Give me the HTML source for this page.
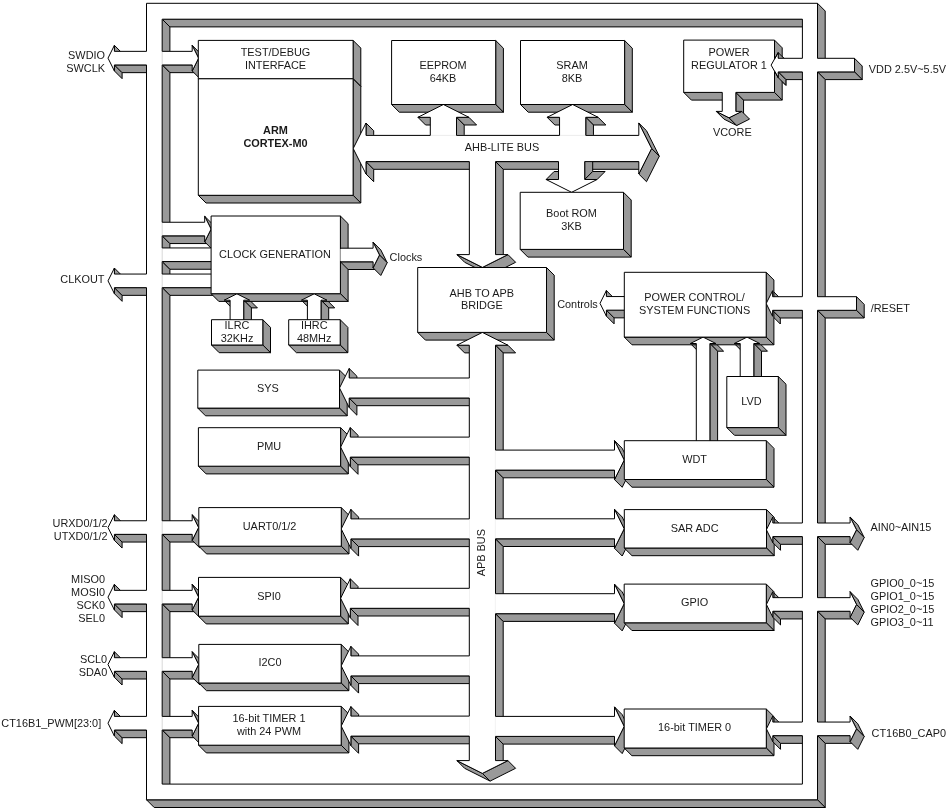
<!DOCTYPE html>
<html><head><meta charset="utf-8"><title>Block diagram</title>
<style>html,body{margin:0;padding:0;background:#fff;width:947px;height:812px;overflow:hidden}svg{display:block;will-change:transform}</style>
</head><body><svg width="947" height="812" viewBox="0 0 947 812"><g fill="#999999" stroke="#000" stroke-width="1.0" stroke-linejoin="round">
<path d="M114.4 45.35 L114.4 51.35 L122.1 59.05 L122.1 53.05 Z"/>
<path d="M114.4 64.95 L114.4 70.95 L122.1 78.65 L122.1 72.65 Z"/>
<path d="M146.5 64.95 L114.4 64.95 L122.1 72.65 L154.2 72.65 Z"/>
<path d="M162.2 19.2 L162.2 51.35 L169.9 59.05 L169.9 26.9 Z"/>
<path d="M192.2 45.35 L198.6 58.15 L206.3 65.85 L199.9 53.05 Z"/>
<path d="M192.2 64.95 L162.2 64.95 L169.9 72.65 L199.9 72.65 Z"/>
<path d="M198.6 58.15 L192.2 70.95 L199.9 78.65 L206.3 65.85 Z"/>
<path d="M162.2 64.95 L162.2 222.25 L169.9 229.95 L169.9 72.65 Z"/>
<path d="M114.4 268.05 L114.4 274.05 L122.1 281.75 L122.1 275.75 Z"/>
<path d="M114.4 287.65 L114.4 293.65 L122.1 301.35 L122.1 295.35 Z"/>
<path d="M162.2 235.85 L162.2 247.95 L169.9 255.65 L169.9 243.55 Z"/>
<path d="M353.1 40.4 L353.1 78.8 L360.8 86.5 L360.8 48.1 Z"/>
<path d="M353.1 78.8 L198.3 78.8 L206 86.5 L360.8 86.5 Z"/>
<path d="M146.5 287.65 L114.4 287.65 L122.1 295.35 L154.2 295.35 Z"/>
<path d="M162.2 261.55 L162.2 274.05 L169.9 281.75 L169.9 269.25 Z"/>
<path d="M204.7 216.25 L211.1 229.05 L218.8 236.75 L212.4 223.95 Z"/>
<path d="M204.7 235.85 L162.2 235.85 L169.9 243.55 L212.4 243.55 Z"/>
<path d="M211.1 229.05 L204.7 241.85 L212.4 249.55 L218.8 236.75 Z"/>
<path d="M213 247.95 L213 261.55 L220.7 269.25 L220.7 255.65 Z"/>
<path d="M213 261.55 L162.2 261.55 L169.9 269.25 L220.7 269.25 Z"/>
<path d="M213 274.05 L213 287.65 L220.7 295.35 L220.7 281.75 Z"/>
<path d="M213 287.65 L162.2 287.65 L169.9 295.35 L220.7 295.35 Z"/>
<path d="M366 123 L366 135.4 L373.7 143.1 L373.7 130.7 Z"/>
<path d="M230.1 300.2 L224.1 300.2 L231.8 307.9 L237.8 307.9 Z"/>
<path d="M366 161.6 L366 174 L373.7 181.7 L373.7 169.3 Z"/>
<path d="M430.3 117.3 L417.9 117.3 L425.6 125 L438 125 Z"/>
<path d="M353.1 78.8 L353.1 195.3 L360.8 203 L360.8 86.5 Z"/>
<path d="M353.1 195.3 L198.3 195.3 L206 203 L360.8 203 Z"/>
<path d="M249.7 300.2 L243.7 300.2 L251.4 307.9 L257.4 307.9 Z"/>
<path d="M243.7 300.2 L243.7 321 L251.4 328.7 L251.4 307.9 Z"/>
<path d="M243.7 321 L230.1 321 L237.8 328.7 L251.4 328.7 Z"/>
<path d="M468.9 117.3 L456.5 117.3 L464.2 125 L476.6 125 Z"/>
<path d="M456.5 117.3 L456.5 135.4 L464.2 143.1 L464.2 125 Z"/>
<path d="M495.7 40.5 L495.7 104.5 L503.4 112.2 L503.4 48.2 Z"/>
<path d="M495.7 104.5 L391.6 104.5 L399.3 112.2 L503.4 112.2 Z"/>
<path d="M307.4 300.2 L301.4 300.2 L309.1 307.9 L315.1 307.9 Z"/>
<path d="M262.8 319.7 L262.8 345 L270.5 352.7 L270.5 327.4 Z"/>
<path d="M262.8 345 L211.5 345 L219.2 352.7 L270.5 352.7 Z"/>
<path d="M327 300.2 L321 300.2 L328.7 307.9 L334.7 307.9 Z"/>
<path d="M469.35 161.6 L366 161.6 L373.7 169.3 L477.05 169.3 Z"/>
<path d="M340.4 216 L340.4 293.7 L348.1 301.4 L348.1 223.7 Z"/>
<path d="M340.4 293.7 L211.1 293.7 L218.8 301.4 L348.1 301.4 Z"/>
<path d="M373.1 242.2 L379.5 255 L387.2 262.7 L380.8 249.9 Z"/>
<path d="M373.1 261.8 L340.4 261.8 L348.1 269.5 L380.8 269.5 Z"/>
<path d="M114.4 514.75 L114.4 520.75 L122.1 528.45 L122.1 522.45 Z"/>
<path d="M379.5 255 L373.1 267.8 L380.8 275.5 L387.2 262.7 Z"/>
<path d="M321 300.2 L321 321 L328.7 328.7 L328.7 307.9 Z"/>
<path d="M321 321 L307.4 321 L315.1 328.7 L328.7 328.7 Z"/>
<path d="M114.4 534.35 L114.4 540.35 L122.1 548.05 L122.1 542.05 Z"/>
<path d="M559.55 117.3 L547.15 117.3 L554.85 125 L567.25 125 Z"/>
<path d="M146.5 534.35 L114.4 534.35 L122.1 542.05 L154.2 542.05 Z"/>
<path d="M162.2 287.65 L162.2 520.75 L169.9 528.45 L169.9 295.35 Z"/>
<path d="M340.2 319.7 L340.2 345 L347.9 352.7 L347.9 327.4 Z"/>
<path d="M340.2 345 L288.7 345 L296.4 352.7 L347.9 352.7 Z"/>
<path d="M114.4 584.35 L114.4 590.35 L122.1 598.05 L122.1 592.05 Z"/>
<path d="M598.15 117.3 L585.75 117.3 L593.45 125 L605.85 125 Z"/>
<path d="M585.75 117.3 L585.75 135.4 L593.45 143.1 L593.45 125 Z"/>
<path d="M114.4 603.95 L114.4 609.95 L122.1 617.65 L122.1 611.65 Z"/>
<path d="M192.2 514.75 L198.6 527.55 L206.3 535.25 L199.9 522.45 Z"/>
<path d="M192.2 534.35 L162.2 534.35 L169.9 542.05 L199.9 542.05 Z"/>
<path d="M349.2 368.5 L349.2 378 L356.9 385.7 L356.9 376.2 Z"/>
<path d="M624.6 40.5 L624.6 104.5 L632.3 112.2 L632.3 48.2 Z"/>
<path d="M624.6 104.5 L520.5 104.5 L528.2 112.2 L632.3 112.2 Z"/>
<path d="M198.6 527.55 L192.2 540.35 L199.9 548.05 L206.3 535.25 Z"/>
<path d="M339.5 370.1 L339.5 408.1 L347.2 415.8 L347.2 377.8 Z"/>
<path d="M339.5 408.1 L197.8 408.1 L205.5 415.8 L347.2 415.8 Z"/>
<path d="M482.45 267.4 L456.95 254.6 L464.65 262.3 L490.15 275.1 Z"/>
<path d="M495.55 161.6 L495.55 254.6 L503.25 262.3 L503.25 169.3 Z"/>
<path d="M146.5 603.95 L114.4 603.95 L122.1 611.65 L154.2 611.65 Z"/>
<path d="M162.2 534.35 L162.2 590.35 L169.9 598.05 L169.9 542.05 Z"/>
<path d="M349.2 398 L349.2 407.5 L356.9 415.2 L356.9 405.7 Z"/>
<path d="M507.95 254.6 L482.45 267.4 L490.15 275.1 L515.65 262.3 Z"/>
<path d="M114.4 651.7 L114.4 657.7 L122.1 665.4 L122.1 659.4 Z"/>
<path d="M350.3 427.6 L350.3 437.1 L358 444.8 L358 435.3 Z"/>
<path d="M114.4 671.3 L114.4 677.3 L122.1 685 L122.1 679 Z"/>
<path d="M192.2 584.35 L198.6 597.15 L206.3 604.85 L199.9 592.05 Z"/>
<path d="M192.2 603.95 L162.2 603.95 L169.9 611.65 L199.9 611.65 Z"/>
<path d="M638.8 123 L651.6 148.5 L659.3 156.2 L646.5 130.7 Z"/>
<path d="M638.8 161.6 L495.55 161.6 L503.25 169.3 L646.5 169.3 Z"/>
<path d="M198.6 597.15 L192.2 609.95 L199.9 617.65 L206.3 604.85 Z"/>
<path d="M340.6 427.7 L340.6 466.2 L348.3 473.9 L348.3 435.4 Z"/>
<path d="M340.6 466.2 L198.4 466.2 L206.1 473.9 L348.3 473.9 Z"/>
<path d="M651.6 148.5 L638.8 174 L646.5 181.7 L659.3 156.2 Z"/>
<path d="M469.3 345.2 L456.9 345.2 L464.6 352.9 L477 352.9 Z"/>
<path d="M722.25 92.4 L683.7 92.4 L691.4 100.1 L729.95 100.1 Z"/>
<path d="M350.3 457.1 L350.3 466.6 L358 474.3 L358 464.8 Z"/>
<path d="M146.5 671.3 L114.4 671.3 L122.1 679 L154.2 679 Z"/>
<path d="M162.2 603.95 L162.2 657.7 L169.9 665.4 L169.9 611.65 Z"/>
<path d="M802.4 19.2 L162.2 19.2 L169.9 26.9 L810.1 26.9 Z"/>
<path d="M114.4 710.4 L114.4 716.4 L122.1 724.1 L122.1 718.1 Z"/>
<path d="M778.2 52.6 L778.2 58.3 L785.9 66 L785.9 60.3 Z"/>
<path d="M729.05 117.8 L716.25 111.4 L723.95 119.1 L736.75 125.5 Z"/>
<path d="M735.85 92.4 L735.85 111.4 L743.55 119.1 L743.55 100.1 Z"/>
<path d="M114.4 730 L114.4 736 L122.1 743.7 L122.1 737.7 Z"/>
<path d="M507.9 345.2 L495.5 345.2 L503.2 352.9 L515.6 352.9 Z"/>
<path d="M741.85 111.4 L729.05 117.8 L736.75 125.5 L749.55 119.1 Z"/>
<path d="M778.2 71.9 L778.2 77.6 L785.9 85.3 L785.9 79.6 Z"/>
<path d="M192.2 651.7 L198.6 664.5 L206.3 672.2 L199.9 659.4 Z"/>
<path d="M192.2 671.3 L162.2 671.3 L169.9 679 L199.9 679 Z"/>
<path d="M774.5 92.4 L735.85 92.4 L743.55 100.1 L782.2 100.1 Z"/>
<path d="M774.5 40.1 L774.5 92.4 L782.2 100.1 L782.2 47.8 Z"/>
<path d="M469.3 398 L349.2 398 L356.9 405.7 L477 405.7 Z"/>
<path d="M198.6 664.5 L192.2 677.3 L199.9 685 L206.3 672.2 Z"/>
<path d="M350.9 509.4 L350.9 518.9 L358.6 526.6 L358.6 517.1 Z"/>
<path d="M623.5 192.3 L623.5 249.4 L631.2 257.1 L631.2 200 Z"/>
<path d="M623.5 249.4 L520.2 249.4 L527.9 257.1 L631.2 257.1 Z"/>
<path d="M802.4 71.9 L778.2 71.9 L785.9 79.6 L810.1 79.6 Z"/>
<path d="M817.5 3.3 L817.5 58.3 L825.2 66 L825.2 11 Z"/>
<path d="M146.5 730 L114.4 730 L122.1 737.7 L154.2 737.7 Z"/>
<path d="M162.2 671.3 L162.2 716.4 L169.9 724.1 L169.9 679 Z"/>
<path d="M546.5 267.5 L546.5 332.4 L554.2 340.1 L554.2 275.2 Z"/>
<path d="M546.5 332.4 L417.7 332.4 L425.4 340.1 L554.2 340.1 Z"/>
<path d="M341.3 507.6 L341.3 546.2 L349 553.9 L349 515.3 Z"/>
<path d="M341.3 546.2 L198.8 546.2 L206.5 553.9 L349 553.9 Z"/>
<path d="M350.9 538.9 L350.9 548.4 L358.6 556.1 L358.6 546.6 Z"/>
<path d="M606.4 290.55 L606.4 296.55 L614.1 304.25 L614.1 298.25 Z"/>
<path d="M192.2 710.4 L198.6 723.2 L206.3 730.9 L199.9 718.1 Z"/>
<path d="M192.2 730 L162.2 730 L169.9 737.7 L199.9 737.7 Z"/>
<path d="M606.4 310.15 L606.4 316.15 L614.1 323.85 L614.1 317.85 Z"/>
<path d="M469.3 457.1 L350.3 457.1 L358 464.8 L477 464.8 Z"/>
<path d="M854.5 58.3 L854.5 71.9 L862.2 79.6 L862.2 66 Z"/>
<path d="M854.5 71.9 L817.5 71.9 L825.2 79.6 L862.2 79.6 Z"/>
<path d="M198.6 723.2 L192.2 736 L199.9 743.7 L206.3 730.9 Z"/>
<path d="M626 296.55 L626 310.15 L633.7 317.85 L633.7 304.25 Z"/>
<path d="M626 310.15 L606.4 310.15 L614.1 317.85 L633.7 317.85 Z"/>
<path d="M350.3 578.8 L350.3 588.3 L358 596 L358 586.5 Z"/>
<path d="M495.5 345.2 L495.5 450.1 L503.2 457.8 L503.2 352.9 Z"/>
<path d="M162.2 730 L162.2 784.1 L169.9 791.8 L169.9 737.7 Z"/>
<path d="M340.6 577.4 L340.6 616.2 L348.3 623.9 L348.3 585.1 Z"/>
<path d="M340.6 616.2 L198.5 616.2 L206.2 623.9 L348.3 623.9 Z"/>
<path d="M350.3 608.3 L350.3 617.8 L358 625.5 L358 616 Z"/>
<path d="M350.9 646.4 L350.9 655.9 L358.6 663.6 L358.6 654.1 Z"/>
<path d="M469.3 538.9 L350.9 538.9 L358.6 546.6 L477 546.6 Z"/>
<path d="M495.5 470.1 L495.5 518.8 L503.2 526.5 L503.2 477.8 Z"/>
<path d="M341.2 644.4 L341.2 683 L348.9 690.7 L348.9 652.1 Z"/>
<path d="M341.2 683 L198.8 683 L206.5 690.7 L348.9 690.7 Z"/>
<path d="M350.9 675.9 L350.9 685.4 L358.6 693.1 L358.6 683.6 Z"/>
<path d="M696.3 343.5 L690.3 343.5 L698 351.2 L704 351.2 Z"/>
<path d="M715.9 343.5 L709.9 343.5 L717.6 351.2 L723.6 351.2 Z"/>
<path d="M350.9 706.6 L350.9 716.1 L358.6 723.8 L358.6 714.3 Z"/>
<path d="M772.6 290.7 L772.6 296.7 L780.3 304.4 L780.3 298.4 Z"/>
<path d="M469.3 608.3 L350.3 608.3 L358 616 L477 616 Z"/>
<path d="M740.2 343.5 L734.2 343.5 L741.9 351.2 L747.9 351.2 Z"/>
<path d="M614.5 440.6 L624.2 460.1 L631.9 467.8 L622.2 448.3 Z"/>
<path d="M614.5 470.1 L495.5 470.1 L503.2 477.8 L622.2 477.8 Z"/>
<path d="M341.2 706.4 L341.2 745.2 L348.9 752.9 L348.9 714.1 Z"/>
<path d="M341.2 745.2 L198.6 745.2 L206.3 752.9 L348.9 752.9 Z"/>
<path d="M772.6 310.3 L772.6 316.3 L780.3 324 L780.3 318 Z"/>
<path d="M495.5 538.8 L495.5 593.7 L503.2 601.4 L503.2 546.5 Z"/>
<path d="M624.2 460.1 L614.5 479.6 L622.2 487.3 L631.9 467.8 Z"/>
<path d="M350.9 736.1 L350.9 745.6 L358.6 753.3 L358.6 743.8 Z"/>
<path d="M759.8 343.5 L753.8 343.5 L761.5 351.2 L767.5 351.2 Z"/>
<path d="M766.2 272.3 L766.2 337.1 L773.9 344.8 L773.9 280 Z"/>
<path d="M766.2 337.1 L624.3 337.1 L632 344.8 L773.9 344.8 Z"/>
<path d="M802.4 310.3 L772.6 310.3 L780.3 318 L810.1 318 Z"/>
<path d="M817.5 71.9 L817.5 296.7 L825.2 304.4 L825.2 79.6 Z"/>
<path d="M753.8 343.5 L753.8 378 L761.5 385.7 L761.5 351.2 Z"/>
<path d="M753.8 378 L740.2 378 L747.9 385.7 L761.5 385.7 Z"/>
<path d="M469.3 675.9 L350.9 675.9 L358.6 683.6 L477 683.6 Z"/>
<path d="M709.9 343.5 L709.9 442 L717.6 449.7 L717.6 351.2 Z"/>
<path d="M709.9 442 L696.3 442 L704 449.7 L717.6 449.7 Z"/>
<path d="M614.5 509.3 L624.2 528.8 L631.9 536.5 L622.2 517 Z"/>
<path d="M614.5 538.8 L495.5 538.8 L503.2 546.5 L622.2 546.5 Z"/>
<path d="M624.2 528.8 L614.5 548.3 L622.2 556 L631.9 536.5 Z"/>
<path d="M856.5 296.7 L856.5 310.3 L864.2 318 L864.2 304.4 Z"/>
<path d="M856.5 310.3 L817.5 310.3 L825.2 318 L864.2 318 Z"/>
<path d="M469.3 736.1 L350.9 736.1 L358.6 743.8 L477 743.8 Z"/>
<path d="M778.3 376.5 L778.3 427.6 L786 435.3 L786 384.2 Z"/>
<path d="M778.3 427.6 L726.8 427.6 L734.5 435.3 L786 435.3 Z"/>
<path d="M495.5 613.7 L495.5 716.4 L503.2 724.1 L503.2 621.4 Z"/>
<path d="M614.5 584.2 L624.2 603.7 L631.9 611.4 L622.2 591.9 Z"/>
<path d="M614.5 613.7 L495.5 613.7 L503.2 621.4 L622.2 621.4 Z"/>
<path d="M624.2 603.7 L614.5 623.2 L622.2 630.9 L631.9 611.4 Z"/>
<path d="M766.3 440.7 L766.3 479.5 L774 487.2 L774 448.4 Z"/>
<path d="M766.3 479.5 L624.3 479.5 L632 487.2 L774 487.2 Z"/>
<path d="M482.4 773.4 L456.9 760.6 L464.6 768.3 L490.1 781.1 Z"/>
<path d="M495.5 736.4 L495.5 760.6 L503.2 768.3 L503.2 744.1 Z"/>
<path d="M507.9 760.6 L482.4 773.4 L490.1 781.1 L515.6 768.3 Z"/>
<path d="M772.8 517 L772.8 523 L780.5 530.7 L780.5 524.7 Z"/>
<path d="M766.5 509.6 L766.5 548 L774.2 555.7 L774.2 517.3 Z"/>
<path d="M766.5 548 L624.3 548 L632 555.7 L774.2 555.7 Z"/>
<path d="M772.8 536.6 L772.8 542.6 L780.5 550.3 L780.5 544.3 Z"/>
<path d="M802.4 536.6 L772.8 536.6 L780.5 544.3 L810.1 544.3 Z"/>
<path d="M817.5 310.3 L817.5 523 L825.2 530.7 L825.2 318 Z"/>
<path d="M614.5 706.9 L624.2 726.4 L631.9 734.1 L622.2 714.6 Z"/>
<path d="M614.5 736.4 L495.5 736.4 L503.2 744.1 L622.2 744.1 Z"/>
<path d="M624.2 726.4 L614.5 745.9 L622.2 753.6 L631.9 734.1 Z"/>
<path d="M772.8 591.65 L772.8 597.65 L780.5 605.35 L780.5 599.35 Z"/>
<path d="M850.1 517 L856.5 529.8 L864.2 537.5 L857.8 524.7 Z"/>
<path d="M850.1 536.6 L817.5 536.6 L825.2 544.3 L857.8 544.3 Z"/>
<path d="M766.3 584.1 L766.3 622.8 L774 630.5 L774 591.8 Z"/>
<path d="M766.3 622.8 L624.2 622.8 L631.9 630.5 L774 630.5 Z"/>
<path d="M772.8 611.25 L772.8 617.25 L780.5 624.95 L780.5 618.95 Z"/>
<path d="M856.5 529.8 L850.1 542.6 L857.8 550.3 L864.2 537.5 Z"/>
<path d="M802.4 611.25 L772.8 611.25 L780.5 618.95 L810.1 618.95 Z"/>
<path d="M817.5 536.6 L817.5 597.65 L825.2 605.35 L825.2 544.3 Z"/>
<path d="M850.1 591.65 L856.5 604.45 L864.2 612.15 L857.8 599.35 Z"/>
<path d="M850.1 611.25 L817.5 611.25 L825.2 618.95 L857.8 618.95 Z"/>
<path d="M856.5 604.45 L850.1 617.25 L857.8 624.95 L864.2 612.15 Z"/>
<path d="M772.8 716.05 L772.8 722.05 L780.5 729.75 L780.5 723.75 Z"/>
<path d="M766.3 709 L766.3 748 L774 755.7 L774 716.7 Z"/>
<path d="M766.3 748 L624.2 748 L631.9 755.7 L774 755.7 Z"/>
<path d="M772.8 735.65 L772.8 741.65 L780.5 749.35 L780.5 743.35 Z"/>
<path d="M802.4 735.65 L772.8 735.65 L780.5 743.35 L810.1 743.35 Z"/>
<path d="M817.5 611.25 L817.5 722.05 L825.2 729.75 L825.2 618.95 Z"/>
<path d="M850.1 716.05 L856.5 728.85 L864.2 736.55 L857.8 723.75 Z"/>
<path d="M850.1 735.65 L817.5 735.65 L825.2 743.35 L857.8 743.35 Z"/>
<path d="M856.5 728.85 L850.1 741.65 L857.8 749.35 L864.2 736.55 Z"/>
<path d="M817.5 735.65 L817.5 799.8 L825.2 807.5 L825.2 743.35 Z"/>
<path d="M817.5 799.8 L146.5 799.8 L154.2 807.5 L825.2 807.5 Z"/>
<path d="M778.2 52.6 L778.2 58.3 L785.9 66 L785.9 60.3 Z"/>
<path d="M778.2 71.9 L778.2 77.6 L785.9 85.3 L785.9 79.6 Z"/>
<path d="M558.5 150 L584.7 150 L592.7 142 L566.5 142 Z"/>
<path d="M584.7 150 L584.7 179.5 L592.7 171.5 L592.7 142 Z"/>
<path d="M584.7 179.5 L597.1 179.5 L605.1 171.5 L592.7 171.5 Z"/>
<path d="M546.1 179.5 L558.5 179.5 L566.5 171.5 L554.1 171.5 Z"/>
</g>
<path fill="#fff" stroke="none" d="M571.6 192.3 L597.1 179.5 L584.7 179.5 L584.7 161.6 L638.8 161.6 L638.8 174 L651.6 148.5 L638.8 123 L638.8 135.4 L585.75 135.4 L585.75 117.3 L598.15 117.3 L572.65 104.5 L547.15 117.3 L559.55 117.3 L559.55 135.4 L456.5 135.4 L456.5 117.3 L468.9 117.3 L443.4 104.5 L417.9 117.3 L430.3 117.3 L430.3 135.4 L366 135.4 L366 123 L353.2 148.5 L366 174 L366 161.6 L469.35 161.6 L469.35 254.6 L456.95 254.6 L482.45 267.4 L507.95 254.6 L495.55 254.6 L495.55 161.6 L558.5 161.6 L558.5 179.5 L546.1 179.5 Z M373.1 261.8 L373.1 267.8 L379.5 255 L373.1 242.2 L373.1 248.2 L340.4 248.2 L340.4 261.8 Z M606.4 310.15 L626 310.15 L626 296.55 L606.4 296.55 L606.4 290.55 L600 303.35 L606.4 316.15 Z M230.1 300.2 L230.1 321 L243.7 321 L243.7 300.2 L249.7 300.2 L236.9 293.8 L224.1 300.2 Z M301.4 300.2 L307.4 300.2 L307.4 321 L321 321 L321 300.2 L327 300.2 L314.2 293.8 Z M740.2 343.5 L740.2 378 L753.8 378 L753.8 343.5 L759.8 343.5 L747 337.1 L734.2 343.5 Z M696.3 343.5 L696.3 442 L709.9 442 L709.9 343.5 L715.9 343.5 L703.1 337.1 L690.3 343.5 Z M114.4 64.95 L146.5 64.95 L146.5 274.05 L114.4 274.05 L114.4 268.05 L108 280.85 L114.4 293.65 L114.4 287.65 L146.5 287.65 L146.5 520.75 L114.4 520.75 L114.4 514.75 L108 527.55 L114.4 540.35 L114.4 534.35 L146.5 534.35 L146.5 590.35 L114.4 590.35 L114.4 584.35 L108 597.15 L114.4 609.95 L114.4 603.95 L146.5 603.95 L146.5 657.7 L114.4 657.7 L114.4 651.7 L108 664.5 L114.4 677.3 L114.4 671.3 L146.5 671.3 L146.5 716.4 L114.4 716.4 L114.4 710.4 L108 723.2 L114.4 736 L114.4 730 L146.5 730 L146.5 799.8 L817.5 799.8 L817.5 735.65 L850.1 735.65 L850.1 741.65 L856.5 728.85 L850.1 716.05 L850.1 722.05 L817.5 722.05 L817.5 611.25 L850.1 611.25 L850.1 617.25 L856.5 604.45 L850.1 591.65 L850.1 597.65 L817.5 597.65 L817.5 536.6 L850.1 536.6 L850.1 542.6 L856.5 529.8 L850.1 517 L850.1 523 L817.5 523 L817.5 310.3 L856.5 310.3 L856.5 296.7 L817.5 296.7 L817.5 71.9 L854.5 71.9 L854.5 58.3 L817.5 58.3 L817.5 3.3 L146.5 3.3 L146.5 51.35 L114.4 51.35 L114.4 45.35 L108 58.15 L114.4 70.95 Z M162.2 19.2 L802.4 19.2 L802.4 58.3 L778.2 58.3 L778.2 52.6 L771.1 65.1 L778.2 77.6 L778.2 71.9 L802.4 71.9 L802.4 296.7 L772.6 296.7 L772.6 290.7 L766.2 303.5 L772.6 316.3 L772.6 310.3 L802.4 310.3 L802.4 523 L772.8 523 L772.8 517 L766.4 529.8 L772.8 542.6 L772.8 536.6 L802.4 536.6 L802.4 597.65 L772.8 597.65 L772.8 591.65 L766.4 604.45 L772.8 617.25 L772.8 611.25 L802.4 611.25 L802.4 722.05 L772.8 722.05 L772.8 716.05 L766.4 728.85 L772.8 741.65 L772.8 735.65 L802.4 735.65 L802.4 784.1 L162.2 784.1 L162.2 730 L192.2 730 L192.2 736 L198.6 723.2 L192.2 710.4 L192.2 716.4 L162.2 716.4 L162.2 671.3 L192.2 671.3 L192.2 677.3 L198.6 664.5 L192.2 651.7 L192.2 657.7 L162.2 657.7 L162.2 603.95 L192.2 603.95 L192.2 609.95 L198.6 597.15 L192.2 584.35 L192.2 590.35 L162.2 590.35 L162.2 534.35 L192.2 534.35 L192.2 540.35 L198.6 527.55 L192.2 514.75 L192.2 520.75 L162.2 520.75 L162.2 287.65 L213 287.65 L213 274.05 L162.2 274.05 L162.2 261.55 L213 261.55 L213 247.95 L162.2 247.95 L162.2 235.85 L204.7 235.85 L204.7 241.85 L211.1 229.05 L204.7 216.25 L204.7 222.25 L162.2 222.25 L162.2 64.95 L192.2 64.95 L192.2 70.95 L198.6 58.15 L192.2 45.35 L192.2 51.35 L162.2 51.35 Z M349.2 398 L469.3 398 L469.3 437.1 L350.3 437.1 L350.3 427.6 L340.6 447.1 L350.3 466.6 L350.3 457.1 L469.3 457.1 L469.3 518.9 L350.9 518.9 L350.9 509.4 L341.2 528.9 L350.9 548.4 L350.9 538.9 L469.3 538.9 L469.3 588.3 L350.3 588.3 L350.3 578.8 L340.6 598.3 L350.3 617.8 L350.3 608.3 L469.3 608.3 L469.3 655.9 L350.9 655.9 L350.9 646.4 L341.2 665.9 L350.9 685.4 L350.9 675.9 L469.3 675.9 L469.3 716.1 L350.9 716.1 L350.9 706.6 L341.2 726.1 L350.9 745.6 L350.9 736.1 L469.3 736.1 L469.3 760.6 L456.9 760.6 L482.4 773.4 L507.9 760.6 L495.5 760.6 L495.5 736.4 L614.5 736.4 L614.5 745.9 L624.2 726.4 L614.5 706.9 L614.5 716.4 L495.5 716.4 L495.5 613.7 L614.5 613.7 L614.5 623.2 L624.2 603.7 L614.5 584.2 L614.5 593.7 L495.5 593.7 L495.5 538.8 L614.5 538.8 L614.5 548.3 L624.2 528.8 L614.5 509.3 L614.5 518.8 L495.5 518.8 L495.5 470.1 L614.5 470.1 L614.5 479.6 L624.2 460.1 L614.5 440.6 L614.5 450.1 L495.5 450.1 L495.5 345.2 L507.9 345.2 L482.4 332.4 L456.9 345.2 L469.3 345.2 L469.3 378 L349.2 378 L349.2 368.5 L339.5 388 L349.2 407.5 Z"/>
<path fill="none" stroke="#d8d8d8" stroke-width="1" d="M162.2 19.2 L162.2 784.1"/>
<path fill="none" stroke="#ececec" stroke-width="1" d="M366 135.4 L638.8 135.4 M340.4 248 L340.4 262"/>
<path fill="none" stroke="#f2f2f2" stroke-width="1" d="M469.5 345.2 L469.5 760.6 M495.3 345.2 L495.3 760.6"/>
<path fill="none" stroke="#000" stroke-width="1.0" d="M571.6 192.3 L597.1 179.5 L584.7 179.5 L584.7 161.6 L638.8 161.6 L638.8 174 L651.6 148.5 L638.8 123 L638.8 135.4 L585.75 135.4 L585.75 117.3 L598.15 117.3 L572.65 104.5 L547.15 117.3 L559.55 117.3 L559.55 135.4 L456.5 135.4 L456.5 117.3 L468.9 117.3 L443.4 104.5 L417.9 117.3 L430.3 117.3 L430.3 135.4 L366 135.4 L366 123 L353.2 148.5 L366 174 L366 161.6 L469.35 161.6 L469.35 254.6 L456.95 254.6 L482.45 267.4 L507.95 254.6 L495.55 254.6 L495.55 161.6 L558.5 161.6 L558.5 179.5 L546.1 179.5 Z M373.1 261.8 L373.1 267.8 L379.5 255 L373.1 242.2 L373.1 248.2 L340.4 248.2 L340.4 261.8 Z M606.4 310.15 L626 310.15 L626 296.55 L606.4 296.55 L606.4 290.55 L600 303.35 L606.4 316.15 Z M230.1 300.2 L230.1 321 L243.7 321 L243.7 300.2 L249.7 300.2 L236.9 293.8 L224.1 300.2 Z M301.4 300.2 L307.4 300.2 L307.4 321 L321 321 L321 300.2 L327 300.2 L314.2 293.8 Z M740.2 343.5 L740.2 378 L753.8 378 L753.8 343.5 L759.8 343.5 L747 337.1 L734.2 343.5 Z M696.3 343.5 L696.3 442 L709.9 442 L709.9 343.5 L715.9 343.5 L703.1 337.1 L690.3 343.5 Z M114.4 64.95 L146.5 64.95 L146.5 274.05 L114.4 274.05 L114.4 268.05 L108 280.85 L114.4 293.65 L114.4 287.65 L146.5 287.65 L146.5 520.75 L114.4 520.75 L114.4 514.75 L108 527.55 L114.4 540.35 L114.4 534.35 L146.5 534.35 L146.5 590.35 L114.4 590.35 L114.4 584.35 L108 597.15 L114.4 609.95 L114.4 603.95 L146.5 603.95 L146.5 657.7 L114.4 657.7 L114.4 651.7 L108 664.5 L114.4 677.3 L114.4 671.3 L146.5 671.3 L146.5 716.4 L114.4 716.4 L114.4 710.4 L108 723.2 L114.4 736 L114.4 730 L146.5 730 L146.5 799.8 L817.5 799.8 L817.5 735.65 L850.1 735.65 L850.1 741.65 L856.5 728.85 L850.1 716.05 L850.1 722.05 L817.5 722.05 L817.5 611.25 L850.1 611.25 L850.1 617.25 L856.5 604.45 L850.1 591.65 L850.1 597.65 L817.5 597.65 L817.5 536.6 L850.1 536.6 L850.1 542.6 L856.5 529.8 L850.1 517 L850.1 523 L817.5 523 L817.5 310.3 L856.5 310.3 L856.5 296.7 L817.5 296.7 L817.5 71.9 L854.5 71.9 L854.5 58.3 L817.5 58.3 L817.5 3.3 L146.5 3.3 L146.5 51.35 L114.4 51.35 L114.4 45.35 L108 58.15 L114.4 70.95 Z M162.2 19.2 L802.4 19.2 L802.4 58.3 L778.2 58.3 L778.2 52.6 L771.1 65.1 L778.2 77.6 L778.2 71.9 L802.4 71.9 L802.4 296.7 L772.6 296.7 L772.6 290.7 L766.2 303.5 L772.6 316.3 L772.6 310.3 L802.4 310.3 L802.4 523 L772.8 523 L772.8 517 L766.4 529.8 L772.8 542.6 L772.8 536.6 L802.4 536.6 L802.4 597.65 L772.8 597.65 L772.8 591.65 L766.4 604.45 L772.8 617.25 L772.8 611.25 L802.4 611.25 L802.4 722.05 L772.8 722.05 L772.8 716.05 L766.4 728.85 L772.8 741.65 L772.8 735.65 L802.4 735.65 L802.4 784.1 L162.2 784.1 L162.2 730 L192.2 730 L192.2 736 L198.6 723.2 L192.2 710.4 L192.2 716.4 L162.2 716.4 L162.2 671.3 L192.2 671.3 L192.2 677.3 L198.6 664.5 L192.2 651.7 L192.2 657.7 L162.2 657.7 L162.2 603.95 L192.2 603.95 L192.2 609.95 L198.6 597.15 L192.2 584.35 L192.2 590.35 L162.2 590.35 L162.2 534.35 L192.2 534.35 L192.2 540.35 L198.6 527.55 L192.2 514.75 L192.2 520.75 L162.2 520.75 L162.2 287.65 L213 287.65 L213 274.05 L162.2 274.05 L162.2 261.55 L213 261.55 L213 247.95 L162.2 247.95 L162.2 235.85 L204.7 235.85 L204.7 241.85 L211.1 229.05 L204.7 216.25 L204.7 222.25 L162.2 222.25 L162.2 64.95 L192.2 64.95 L192.2 70.95 L198.6 58.15 L192.2 45.35 L192.2 51.35 L162.2 51.35 Z M349.2 398 L469.3 398 L469.3 437.1 L350.3 437.1 L350.3 427.6 L340.6 447.1 L350.3 466.6 L350.3 457.1 L469.3 457.1 L469.3 518.9 L350.9 518.9 L350.9 509.4 L341.2 528.9 L350.9 548.4 L350.9 538.9 L469.3 538.9 L469.3 588.3 L350.3 588.3 L350.3 578.8 L340.6 598.3 L350.3 617.8 L350.3 608.3 L469.3 608.3 L469.3 655.9 L350.9 655.9 L350.9 646.4 L341.2 665.9 L350.9 685.4 L350.9 675.9 L469.3 675.9 L469.3 716.1 L350.9 716.1 L350.9 706.6 L341.2 726.1 L350.9 745.6 L350.9 736.1 L469.3 736.1 L469.3 760.6 L456.9 760.6 L482.4 773.4 L507.9 760.6 L495.5 760.6 L495.5 736.4 L614.5 736.4 L614.5 745.9 L624.2 726.4 L614.5 706.9 L614.5 716.4 L495.5 716.4 L495.5 613.7 L614.5 613.7 L614.5 623.2 L624.2 603.7 L614.5 584.2 L614.5 593.7 L495.5 593.7 L495.5 538.8 L614.5 538.8 L614.5 548.3 L624.2 528.8 L614.5 509.3 L614.5 518.8 L495.5 518.8 L495.5 470.1 L614.5 470.1 L614.5 479.6 L624.2 460.1 L614.5 440.6 L614.5 450.1 L495.5 450.1 L495.5 345.2 L507.9 345.2 L482.4 332.4 L456.9 345.2 L469.3 345.2 L469.3 378 L349.2 378 L349.2 368.5 L339.5 388 L349.2 407.5 Z"/>
<path fill="#fff" stroke="#000" stroke-width="1.0" d="M353.1 40.4 L353.1 78.8 L198.3 78.8 L198.3 40.4 Z"/>
<path fill="#fff" stroke="#000" stroke-width="1.0" d="M353.1 78.8 L353.1 195.3 L198.3 195.3 L198.3 78.8 Z"/>
<path fill="#fff" stroke="#000" stroke-width="1.0" d="M495.7 40.5 L495.7 104.5 L391.6 104.5 L391.6 40.5 Z"/>
<path fill="#fff" stroke="#000" stroke-width="1.0" d="M624.6 40.5 L624.6 104.5 L520.5 104.5 L520.5 40.5 Z"/>
<path fill="#fff" stroke="#000" stroke-width="1.0" d="M774.5 92.4 L774.5 40.1 L683.7 40.1 L683.7 92.4 L722.25 92.4 L722.25 111.4 L716.25 111.4 L729.05 117.8 L741.85 111.4 L735.85 111.4 L735.85 92.4 Z"/>
<path fill="#fff" stroke="#000" stroke-width="1.0" d="M623.5 192.3 L623.5 249.4 L520.2 249.4 L520.2 192.3 Z"/>
<path fill="#fff" stroke="#000" stroke-width="1.0" d="M340.4 216 L340.4 293.7 L211.1 293.7 L211.1 216 Z"/>
<path fill="#fff" stroke="#000" stroke-width="1.0" d="M262.8 319.7 L262.8 345 L211.5 345 L211.5 319.7 Z"/>
<path fill="#fff" stroke="#000" stroke-width="1.0" d="M340.2 319.7 L340.2 345 L288.7 345 L288.7 319.7 Z"/>
<path fill="#fff" stroke="#000" stroke-width="1.0" d="M546.5 267.5 L546.5 332.4 L417.7 332.4 L417.7 267.5 Z"/>
<path fill="#fff" stroke="#000" stroke-width="1.0" d="M766.2 272.3 L766.2 337.1 L624.3 337.1 L624.3 272.3 Z"/>
<path fill="#fff" stroke="#000" stroke-width="1.0" d="M339.5 370.1 L339.5 408.1 L197.8 408.1 L197.8 370.1 Z"/>
<path fill="#fff" stroke="#000" stroke-width="1.0" d="M340.6 427.7 L340.6 466.2 L198.4 466.2 L198.4 427.7 Z"/>
<path fill="#fff" stroke="#000" stroke-width="1.0" d="M778.3 376.5 L778.3 427.6 L726.8 427.6 L726.8 376.5 Z"/>
<path fill="#fff" stroke="#000" stroke-width="1.0" d="M766.3 440.7 L766.3 479.5 L624.3 479.5 L624.3 440.7 Z"/>
<path fill="#fff" stroke="#000" stroke-width="1.0" d="M341.3 507.6 L341.3 546.2 L198.8 546.2 L198.8 507.6 Z"/>
<path fill="#fff" stroke="#000" stroke-width="1.0" d="M766.5 509.6 L766.5 548 L624.3 548 L624.3 509.6 Z"/>
<path fill="#fff" stroke="#000" stroke-width="1.0" d="M340.6 577.4 L340.6 616.2 L198.5 616.2 L198.5 577.4 Z"/>
<path fill="#fff" stroke="#000" stroke-width="1.0" d="M766.3 584.1 L766.3 622.8 L624.2 622.8 L624.2 584.1 Z"/>
<path fill="#fff" stroke="#000" stroke-width="1.0" d="M341.2 644.4 L341.2 683 L198.8 683 L198.8 644.4 Z"/>
<path fill="#fff" stroke="#000" stroke-width="1.0" d="M341.2 706.4 L341.2 745.2 L198.6 745.2 L198.6 706.4 Z"/>
<path fill="#fff" stroke="#000" stroke-width="1.0" d="M766.3 709 L766.3 748 L624.2 748 L624.2 709 Z"/>
<line x1="340.4" y1="249" x2="340.4" y2="261" stroke="#fff" stroke-width="1.2" stroke-opacity="0.6"/>
<path fill="#fff" stroke="none" d="M771.1 65.1 L775.2 72.32 L775.2 57.88 Z"/>
<path fill="none" stroke="#000" stroke-width="1.0" d="M778.2 52.6 L771.1 65.1 L778.2 77.6"/>
<g font-family="Liberation Sans, sans-serif" font-size="10.9" fill="#1a1a1a">
<text x="105" y="59" text-anchor="end">SWDIO</text>
<text x="105" y="71.7" text-anchor="end">SWCLK</text>
<text x="275.5" y="56.3" text-anchor="middle">TEST/DEBUG</text>
<text x="275.5" y="69" text-anchor="middle">INTERFACE</text>
<text x="275.5" y="133.6" text-anchor="middle" font-weight="bold">ARM</text>
<text x="275.5" y="146.7" text-anchor="middle" font-weight="bold">CORTEX-M0</text>
<text x="443" y="69" text-anchor="middle">EEPROM</text>
<text x="443" y="81.9" text-anchor="middle">64KB</text>
<text x="572" y="68.8" text-anchor="middle">SRAM</text>
<text x="572" y="81.7" text-anchor="middle">8KB</text>
<text x="729" y="56" text-anchor="middle">POWER</text>
<text x="729" y="69.3" text-anchor="middle">REGULATOR 1</text>
<text x="868.8" y="72.8" text-anchor="start">VDD 2.5V~5.5V</text>
<text x="732.3" y="135.7" text-anchor="middle">VCORE</text>
<text x="502" y="151.4" text-anchor="middle">AHB-LITE BUS</text>
<text x="571.5" y="217.3" text-anchor="middle">Boot ROM</text>
<text x="571.5" y="230.4" text-anchor="middle">3KB</text>
<text x="274.9" y="257.6" text-anchor="middle">CLOCK GENERATION</text>
<text x="389.6" y="260.6" text-anchor="start">Clocks</text>
<text x="104.5" y="283.4" text-anchor="end">CLKOUT</text>
<text x="237" y="329" text-anchor="middle">ILRC</text>
<text x="237" y="341.8" text-anchor="middle">32KHz</text>
<text x="314.2" y="329" text-anchor="middle">IHRC</text>
<text x="314.2" y="341.8" text-anchor="middle">48MHz</text>
<text x="481.8" y="296.5" text-anchor="middle">AHB TO APB</text>
<text x="481.8" y="309.2" text-anchor="middle">BRIDGE</text>
<text x="557.2" y="308.2" text-anchor="start">Controls</text>
<text x="694.6" y="300.7" text-anchor="middle">POWER CONTROL/</text>
<text x="694.6" y="313.8" text-anchor="middle">SYSTEM FUNCTIONS</text>
<text x="870.7" y="311.8" text-anchor="start">/RESET</text>
<text x="268" y="392.2" text-anchor="middle">SYS</text>
<text x="751.5" y="405" text-anchor="middle">LVD</text>
<text x="269" y="449.9" text-anchor="middle">PMU</text>
<text x="694.6" y="462.7" text-anchor="middle">WDT</text>
<text x="107.7" y="527" text-anchor="end">URXD0/1/2</text>
<text x="107.7" y="540" text-anchor="end">UTXD0/1/2</text>
<text x="269.6" y="529.8" text-anchor="middle">UART0/1/2</text>
<text x="694.6" y="531.5" text-anchor="middle">SAR ADC</text>
<text x="870.5" y="530.6" text-anchor="start">AIN0~AIN15</text>
<text x="105" y="582.8" text-anchor="end">MISO0</text>
<text x="105" y="595.9" text-anchor="end">MOSI0</text>
<text x="105" y="609" text-anchor="end">SCK0</text>
<text x="105" y="621.9" text-anchor="end">SEL0</text>
<text x="269" y="599.5" text-anchor="middle">SPI0</text>
<text x="694.6" y="606.3" text-anchor="middle">GPIO</text>
<text x="870.5" y="586.7" text-anchor="start">GPIO0_0~15</text>
<text x="870.5" y="599.9" text-anchor="start">GPIO1_0~15</text>
<text x="870.5" y="612.6" text-anchor="start">GPIO2_0~15</text>
<text x="870.5" y="625.8" text-anchor="start">GPIO3_0~11</text>
<text x="107.2" y="663.2" text-anchor="end">SCL0</text>
<text x="107.2" y="675.8" text-anchor="end">SDA0</text>
<text x="270" y="666.3" text-anchor="middle">I2C0</text>
<text x="101.2" y="727.1" text-anchor="end">CT16B1_PWM[23:0]</text>
<text x="269" y="721.7" text-anchor="middle">16-bit TIMER 1</text>
<text x="269" y="734.8" text-anchor="middle">with 24 PWM</text>
<text x="694.6" y="731.2" text-anchor="middle">16-bit TIMER 0</text>
<text x="871.6" y="737" text-anchor="start">CT16B0_CAP0</text>
<text transform="translate(484.8 552.7) rotate(-90)" text-anchor="middle">APB BUS</text>
</g></svg></body></html>
